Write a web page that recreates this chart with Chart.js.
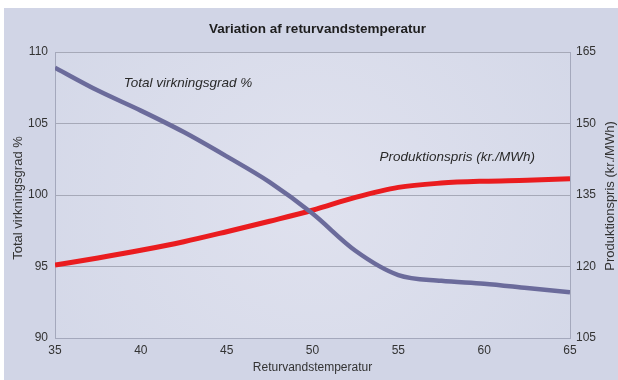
<!DOCTYPE html>
<html><head><meta charset="utf-8">
<script src="https://cdn.jsdelivr.net/npm/chart.js@4"></script>
<style>
html,body{margin:0;padding:0;background:#ffffff;}
#wrap{position:absolute;left:0;top:0;width:618px;height:380px;}
</style></head>
<body>
<div id="wrap"><canvas id="c" width="618" height="380"></canvas></div>
<script>
const temperatures = [35, 37.5, 40, 42.5, 45, 47.5, 50, 52.5, 55, 57.5, 60, 62.5, 65];
const virkningsgrad = [108.9, 107.3, 105.9, 104.4, 102.7, 100.9, 98.7, 96.1, 94.4, 94.0, 93.8, 93.5, 93.2];
const produktionspris = [120.3, 121.8, 123.4, 125.2, 127.3, 129.5, 131.8, 134.5, 136.6, 137.5, 137.9, 138.1, 138.4];
const xTicks = [35, 40, 45, 50, 55, 60, 65];
const leftTicks = [90, 95, 100, 105, 110];
const rightTicks = [105, 120, 135, 150, 165];
const chartTitle = "Variation af returvandstemperatur";
const xTitle = "Returvandstemperatur";
const leftTitle = "Total virkningsgrad %";
const rightTitle = "Produktionspris (kr./MWh)";
const seriesLabels = ["Total virkningsgrad %", "Produktionspris (kr./MWh)"];

const FONT = "'Liberation Sans', Arial, sans-serif";

const bgPlugin = {
  id: 'bg',
  beforeDraw(chart) {
    const {ctx, chartArea: a} = chart;
    ctx.save();
    ctx.fillStyle = '#d1d5e6';
    ctx.fillRect(4, 8, chart.width - 4, chart.height - 8);
    const g = ctx.createRadialGradient((a.left+a.right)/2, (a.top+a.bottom)/2, 20, (a.left+a.right)/2, (a.top+a.bottom)/2, 300);
    g.addColorStop(0, '#dfe1ee');
    g.addColorStop(1, '#d4d8e8');
    ctx.fillStyle = g;
    ctx.fillRect(a.left, a.top, a.right - a.left, a.bottom - a.top);
    ctx.restore();
  },
  afterDraw(chart) {
    const {ctx, chartArea: a, scales} = chart;
    ctx.save();
    ctx.fillStyle = '#1e1e1e';
    ctx.textAlign = 'center';
    ctx.textBaseline = 'middle';
    ctx.font = "bold 13.5px " + FONT;
    ctx.fillText(chartTitle, (a.left + a.right) / 2 + 5, 29);
    ctx.fillStyle = '#333';
    ctx.font = "12px " + FONT;
    ctx.fillText(xTitle, (a.left + a.right) / 2, 368);
    ctx.font = "13px " + FONT;
    ctx.save();
    ctx.translate(18, (a.top + a.bottom) / 2 + 3);
    ctx.rotate(-Math.PI / 2);
    ctx.fillText(leftTitle, 0, 0);
    ctx.restore();
    ctx.save();
    ctx.translate(610, (a.top + a.bottom) / 2 + 1);
    ctx.rotate(-Math.PI / 2);
    ctx.fillText(rightTitle, 0, 0);
    ctx.restore();
    // series labels
    ctx.font = "italic 13.5px " + FONT;
    ctx.fillStyle = '#2a2a2a';
    ctx.textAlign = 'left';
    ctx.fillText(seriesLabels[0], scales.x.getPixelForValue(39.0), scales.y.getPixelForValue(107.8));
    ctx.fillText(seriesLabels[1], scales.x.getPixelForValue(53.9), scales.y1.getPixelForValue(143.0));
    ctx.restore();
  }
};

new Chart(document.getElementById('c'), {
  type: 'line',
  data: {
    datasets: [
      {
        label: seriesLabels[0],
        data: temperatures.map((t, i) => ({x: t, y: virkningsgrad[i]})),
        borderColor: '#6b6b9b',
        borderWidth: 4.5,
        pointRadius: 0,
        tension: 0.4,
        cubicInterpolationMode: 'monotone',
        yAxisID: 'y'
      },
      {
        label: seriesLabels[1],
        data: temperatures.map((t, i) => ({x: t, y: produktionspris[i]})),
        borderColor: '#ea1c1f',
        borderWidth: 5,
        pointRadius: 0,
        tension: 0.4,
        cubicInterpolationMode: 'monotone',
        yAxisID: 'y1'
      }
    ]
  },
  options: {
    responsive: false,
    animation: false,
    layout: {padding: {top: 52, left: 0, right: 0, bottom: 0}},
    plugins: {legend: {display: false}, title: {display: false}, tooltip: {enabled: false}},
    scales: {
      x: {
        type: 'linear', min: 35, max: 65,
        afterBuildTicks: s => { s.ticks = xTicks.map(v => ({value: v})); },
        grid: {display: false, drawTicks: false},
        border: {display: true, color: '#a4a8bc', width: 1},
        ticks: {color: '#333', font: {family: FONT, size: 12}, padding: 5},
        afterFit: s => { s.height = 42; }
      },
      y: {
        position: 'left', min: 90, max: 110,
        afterBuildTicks: s => { s.ticks = leftTicks.map(v => ({value: v})); },
        grid: {color: '#a6a9b8', lineWidth: 1, drawTicks: false},
        border: {display: true, color: '#a4a8bc'},
        ticks: {color: '#333', font: {family: FONT, size: 12}, padding: 7},
        afterFit: s => { s.width = 55; }
      },
      y1: {
        position: 'right', min: 105, max: 165,
        afterBuildTicks: s => { s.ticks = rightTicks.map(v => ({value: v})); },
        grid: {display: false, drawTicks: false},
        border: {display: true, color: '#a4a8bc'},
        ticks: {color: '#333', font: {family: FONT, size: 12}, padding: 6},
        afterFit: s => { s.width = 48; }
      }
    }
  },
  plugins: [bgPlugin]
});
</script>
</body></html>
